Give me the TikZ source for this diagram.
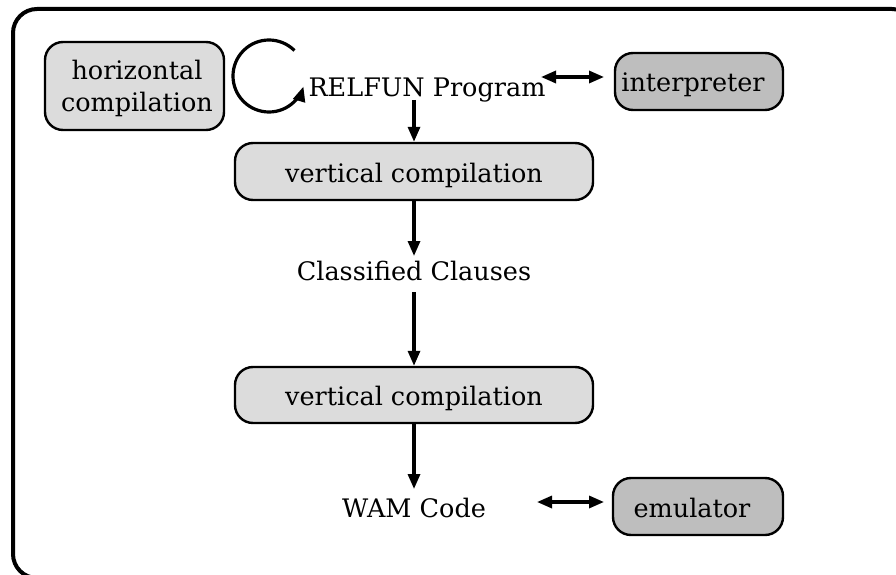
\documentclass[tikz,border=0pt]{standalone}
\usepackage{fontspec}
\setmainfont{DejaVu Serif}
\usetikzlibrary{arrows.meta,calc}
\begin{document}
\begin{tikzpicture}[x=1pt,y=-1pt,
  lbl/.style={font=\fontsize{25.5}{32}\selectfont, inner sep=0pt},
  boxl/.style={draw, line width=2.4pt, rounded corners=18pt, fill=light, inner sep=0pt},
  boxd/.style={draw, line width=2.4pt, rounded corners=18pt, fill=dark, inner sep=0pt},
  arr/.style={line width=3.2pt, -{Triangle[length=15pt,width=12pt]}},
  darr/.style={line width=3.2pt, {Triangle[length=15pt,width=12pt]}-{Triangle[length=15pt,width=12pt]}},
]
\definecolor{light}{HTML}{DCDCDC}
\definecolor{dark}{HTML}{BEBEBE}
\useasboundingbox (0,0) rectangle (896,575);
\clip (0,0) rectangle (896,575);
\fill[white] (0,0) rectangle (896,575);
\draw[line width=4pt, rounded corners=24pt] (13,9) rectangle (916,578);

% boxes
\node[boxl, minimum width=179pt, minimum height=88pt] (hc) at (134.5,86) {};
\node[boxd, minimum width=168pt, minimum height=57pt] (int) at (699,81.5) {};
\node[boxl, minimum width=358pt, minimum height=57pt] (vc1) at (414,171.5) {};
\node[boxl, minimum width=358pt, minimum height=56pt] (vc2) at (414,395) {};
\node[boxd, minimum width=170pt, minimum height=57pt] (emu) at (698,506.5) {};

% texts
\node[lbl, anchor=base] (hct1) at (137,80) {horizontal};
\node[lbl, anchor=base] (hct2) at (137,112) {compilation};
\node[lbl, anchor=base] (rp) at (427,97) {RELFUN Program};
\node[lbl, anchor=base] (intt) at (693,92) {interpreter};
\node[lbl, anchor=base] (vc1t) at (414,182) {vertical compilation};
\node[lbl, anchor=base] (cc) at (414,280) {Classified Clauses};
\node[lbl, anchor=base] (vc2t) at (414,405) {vertical compilation};
\node[lbl, anchor=base] (wam) at (414,517) {WAM Code};
\node[lbl, anchor=base] (emut) at (692,517) {emulator};

% loop
\coordinate (loopc) at (269,76);
\draw[arr] ($(loopc)+(-45:36)$) arc[start angle=-45, end angle=-343, radius=36];

% connectors
\coordinate (rpa) at (541,77);
\coordinate (inta) at (604,77);
\draw[darr] (rpa) -- (inta);
\draw[arr] (vc1.north |- 0,100) -- (vc1.north);
\draw[arr] (vc1.south) -- (vc1.south |- 0,256);
\draw[arr] (vc2.north |- 0,292) -- (vc2.north);
\draw[arr] (vc2.south) -- (vc2.south |- 0,489);
\coordinate (wa) at (537,502);
\coordinate (ea) at (604,502);
\draw[darr] (wa) -- (ea);
\end{tikzpicture}
\end{document}
